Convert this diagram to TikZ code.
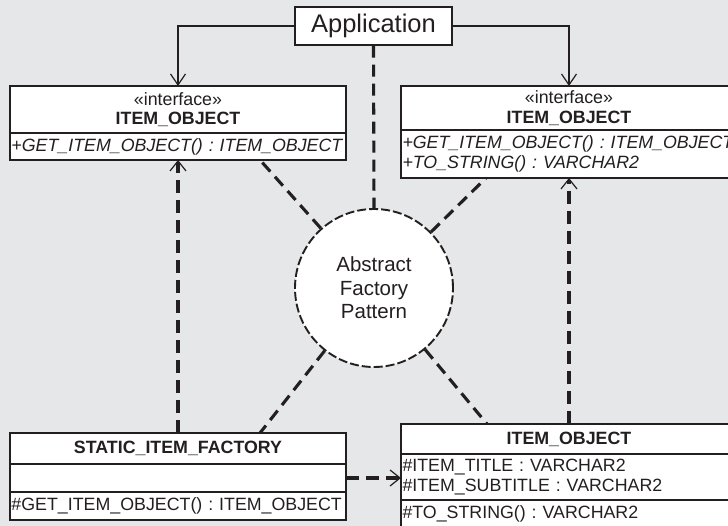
\documentclass[tikz,border=0pt]{standalone}
\usepackage{fontspec}
\setmainfont{Liberation Sans}
\usetikzlibrary{arrows.meta,positioning}
\definecolor{bg}{RGB}{230,231,232}
\definecolor{ink}{RGB}{35,31,32}
\newcommand{\umlfont}{\fontsize{17.8}{19.5}\selectfont\frenchspacing}

\begin{document}
\begin{tikzpicture}[x=1pt, y=-1pt,
    cls/.style={draw=ink, fill=white, line width=1.2pt, minimum width=336pt,
                inner sep=0pt, outer sep=0pt, font=\umlfont, align=center, text=ink},
    clsl/.style={cls, text width=333pt, inner xsep=1.5pt, align=left},
    assoc/.style={draw=ink, line width=1.2pt, -{Straight Barb[length=11pt,width=15pt]}},
    dep/.style={draw=ink, line width=3.1pt, dash pattern=on 12pt off 7pt},
    deparr/.style={draw=ink, line width=3.2pt, dash pattern=on 13pt off 7pt,
                   -{Straight Barb[length=10pt,width=16pt,line width=1.2pt]}}]

    \useasboundingbox (0,0) rectangle (728,526);
    \fill[bg] (0,0) rectangle (728,526);
    \clip (0,0) rectangle (728,526);

    % application and pattern
    \node[draw=ink, fill=white, line width=1.2pt, minimum width=157pt, minimum height=38pt,
          inner sep=0pt, font=\fontsize{25.5}{28}\selectfont, text=ink] (app) at (373.5,26) {Application};
    \node[circle, draw=ink, fill=white, line width=1.9pt, dash pattern=on 9pt off 3pt,
          minimum size=158pt, align=center, text=ink,
          font=\fontsize{20.5}{23.5}\selectfont] (afp) at (374,288) {Abstract\\Factory\\Pattern};

    % interfaces
    \node[cls, minimum height=47pt] (iflh) at (178,109.5) {«interface»\\\textbf{ITEM\_OBJECT}};
    \node[clsl, minimum height=27pt, below=0pt of iflh] (iflm) {\textit{+GET\_ITEM\_OBJECT() : ITEM\_OBJECT}};

    \node[cls, minimum height=44pt] (ifrh) at (569,108) {«interface»\\\textbf{ITEM\_OBJECT}};
    \node[clsl, minimum height=48pt, below=0pt of ifrh] (ifrm)
      {\textit{+GET\_ITEM\_OBJECT() : ITEM\_OBJECT}\\\textit{+TO\_STRING() : VARCHAR2}};

    % classes
    \node[cls, minimum height=31pt] (sifh) at (178,448.5) {\textbf{STATIC\_ITEM\_FACTORY}};
    \node[cls, minimum height=28pt, below=0pt of sifh] (sifa) {};
    \node[clsl, minimum height=28pt, below=0pt of sifa] (sifm) {\#GET\_ITEM\_OBJECT() : ITEM\_OBJECT};

    \node[cls, minimum height=30pt] (ioh) at (569,439) {\textbf{ITEM\_OBJECT}};
    \node[clsl, minimum height=46pt, below=0pt of ioh] (ioa) {\#ITEM\_TITLE : VARCHAR2\\\#ITEM\_SUBTITLE : VARCHAR2};
    \node[clsl, minimum height=27pt, below=0pt of ioa] (iom) {\#TO\_STRING() : VARCHAR2};

    % connectors
    \draw[assoc] (app.west) -| (iflh.north);
    \draw[assoc] (app.east) -| (ifrh.north);
    \draw[dep] (app.south) -- (afp.north);
    \draw[dep] (afp) -- ([xshift=-86pt]iflm.south east);
    \draw[dep] (afp) -- ([xshift=85pt]ifrm.south west);
    \draw[dep] (afp) -- ([xshift=-86pt]sifh.north east);
    \draw[dep] (afp) -- ([xshift=86pt]ioh.north west);
    \draw[deparr] (sifh.north) -- (iflm.south);
    \draw[deparr] (ioh.north) -- (ifrm.south);
    \draw[deparr] (sifa.east) -- (sifa.east -| ioa.west);
\end{tikzpicture}
\end{document}
